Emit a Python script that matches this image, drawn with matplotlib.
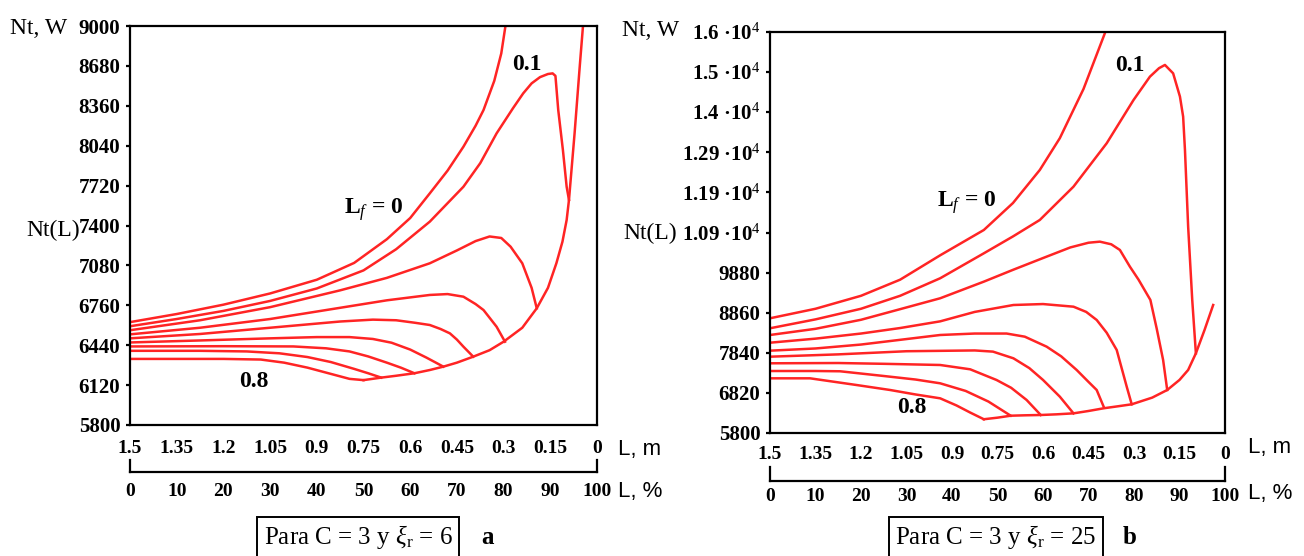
import matplotlib
matplotlib.use("Agg")
import matplotlib.pyplot as plt

plt.rcParams['font.family'] = ['Liberation Serif', 'DejaVu Serif']
plt.rcParams['mathtext.fontset'] = 'custom'
plt.rcParams['mathtext.rm'] = 'Liberation Serif'
plt.rcParams['mathtext.it'] = 'Liberation Serif:italic'
plt.rcParams['mathtext.bf'] = 'Liberation Serif:bold'

RED = '#ff2424'
GREEN = '#1fa83c'

# ---------------- shared bottom scales ----------------
pct_ticks = [0, 10, 20, 30, 40, 50, 60, 70, 80, 90, 100]
pct_labels = ['0', '10', '20', '30', '40', '50', '60', '70', '80', '90', '100']
m_labels = ['1.5', '1.35', '1.2', '1.05', '0.9', '0.75', '0.6', '0.45', '0.3', '0.15', '0']

# ---------------- panel a (C = 3, xi_r = 6) ----------------
a_yticks = [5800, 6120, 6440, 6760, 7080, 7400, 7720, 8040, 8360, 8680, 9000]
a_yticklabels = ['5800', '6120', '6440', '6760', '7080', '7400', '7720', '8040', '8360', '8680', '9000']

a_x0 = [0, 10, 20, 30, 40, 48, 55, 60, 64.2, 68, 71.4, 74, 75.7, 78, 79.5, 80.6]
a_y0 = [6625, 6690, 6765, 6855, 6965, 7100, 7290, 7460, 7658, 7840, 8032, 8200, 8326, 8560, 8780, 9050]
a_x1 = [0, 10, 20, 30, 40, 50, 57, 64.2, 71.4, 75, 78.5, 82, 84.2, 86, 87.8, 89.5, 90.5, 91.1, 91.7, 92.7, 93.5, 94.0]
a_y1 = [6592, 6650, 6715, 6795, 6895, 7040, 7210, 7431, 7711, 7900, 8139, 8340, 8460, 8540, 8590, 8615, 8620, 8600, 8326, 8005, 7711, 7605]
a_x2 = [0, 15, 30, 45, 55, 64.2, 70, 74, 77, 79.5, 81.5, 84, 86, 87.1]
a_y2 = [6560, 6640, 6745, 6880, 6980, 7097, 7200, 7275, 7312, 7300, 7230, 7097, 6900, 6736]
a_x3 = [0, 15, 30, 45, 55, 64.2, 68, 71.4, 74, 75.7, 77, 78.5, 80.3]
a_y3 = [6527, 6580, 6650, 6740, 6800, 6843, 6850, 6829, 6770, 6722, 6660, 6588, 6468]
a_x4 = [0, 15, 30, 45, 52, 57, 61, 64.2, 66.5, 68.5, 70, 71.4, 73.5]
a_y4 = [6495, 6530, 6580, 6630, 6645, 6640, 6620, 6602, 6570, 6535, 6485, 6428, 6348]
a_x5 = [0, 15, 30, 40, 47, 52, 56, 60, 63.5, 67.1]
a_y5 = [6462, 6478, 6495, 6505, 6505, 6490, 6460, 6405, 6340, 6268]
a_x6 = [0, 20, 35, 42, 47, 51, 55, 58, 60.9]
a_y6 = [6430, 6432, 6430, 6415, 6390, 6350, 6300, 6260, 6215]
a_x7 = [0, 15, 25, 32, 38, 43, 48, 51, 53.8]
a_y7 = [6395, 6395, 6390, 6375, 6345, 6305, 6250, 6215, 6180]
a_x8 = [0, 20, 28, 33, 38, 43, 47, 50]
a_y8 = [6330, 6330, 6325, 6300, 6260, 6210, 6170, 6160]
a_env_x = [50, 53.8, 57, 60.9, 64.2, 67.1, 70, 73.5, 77, 80, 84, 87.1, 89.5, 91.3, 92.6, 93.5, 94.0, 95.2, 96.3, 97.0, 97.3]
a_env_y = [6160, 6180, 6195, 6215, 6241, 6268, 6300, 6348, 6400, 6468, 6580, 6736, 6900, 7097, 7270, 7444, 7605, 8139, 8674, 9000, 9100]

# ---------------- panel b (C = 3, xi_r = 25) ----------------
b_yticks = [5800, 6820, 7840, 8860, 9880, 10900, 11920, 12940, 13960, 14980, 16000]
b_yticklabels = ['5800', '6820', '7840', '8860', '9880',
                 '1.09 ·10$^{4}$', '1.19 ·10$^{4}$', '1.29 ·10$^{4}$',
                 '1.4 ·10$^{4}$', '1.5 ·10$^{4}$', '1.6 ·10$^{4}$']

b_x0 = [0, 10, 20, 28.6, 37.4, 47, 53.4, 59.3, 63.7, 68.9, 73.6, 74.3]
b_y0 = [8718, 8960, 9290, 9700, 10320, 10964, 11650, 12491, 13300, 14550, 15970, 16200]
b_x1 = [0, 10, 20, 28.6, 37.4, 47, 53.4, 59.3, 66.7, 74, 79.9, 83.5, 85.5, 86.8, 88.6, 90.1, 90.8, 91.2, 91.9, 92.8, 93.6]
b_y1 = [8464, 8690, 8960, 9290, 9736, 10371, 10800, 11219, 12066, 13170, 14271, 14864, 15080, 15162, 14949, 14356, 13847, 12999, 11050, 9184, 7827]
b_x2 = [0, 10, 20, 28.6, 37.4, 47, 53.4, 60, 66, 70, 72.5, 75, 76.9, 79.1, 81, 83.6, 85, 86.4, 87.3]
b_y2 = [8293, 8450, 8680, 8950, 9227, 9650, 9950, 10250, 10520, 10640, 10667, 10600, 10456, 10031, 9700, 9184, 8450, 7657, 6894]
b_x3 = [0, 10, 20, 28.6, 37.4, 45, 53.5, 60, 66.7, 69.5, 71.8, 74, 76.2, 78.4, 79.5]
b_y3 = [8097, 8200, 8330, 8470, 8640, 8880, 9056, 9080, 9013, 8880, 8675, 8350, 7912, 6978, 6530]
b_x4 = [0, 10, 20, 28.6, 37.4, 45, 52, 56, 60.8, 64, 67.4, 70, 71.8, 73.4]
b_y4 = [7894, 7950, 8050, 8170, 8293, 8330, 8330, 8250, 7996, 7750, 7403, 7100, 6894, 6450]
b_x5 = [0, 15, 30, 45, 49, 53.5, 57, 60, 63.7, 66.7]
b_y5 = [7741, 7800, 7880, 7900, 7870, 7700, 7450, 7150, 6724, 6300]
b_x6 = [0, 15, 25, 37.4, 44, 49.8, 53, 56.4, 59.5]
b_y6 = [7573, 7580, 7560, 7530, 7420, 7148, 6950, 6640, 6258]
b_x7 = [0, 10, 15.4, 25, 32, 37.4, 43, 48, 52.9]
b_y7 = [7377, 7377, 7370, 7250, 7160, 7064, 6870, 6600, 6240]
b_x8 = [0, 8.8, 19, 26.4, 32, 37.4, 41, 44, 47]
b_y8 = [7191, 7191, 7021, 6894, 6780, 6682, 6500, 6320, 6150]
b_env_x = [47, 50, 52.9, 56, 59.5, 63, 66.7, 70, 73.4, 76.5, 79.5, 84, 87.3, 90, 91.9, 93.6, 95.5, 97.4]
b_env_y = [6150, 6190, 6240, 6250, 6258, 6275, 6300, 6360, 6430, 6480, 6530, 6700, 6894, 7150, 7403, 7827, 8420, 9056]

W, H = 1304, 556
fig = plt.figure(figsize=(W / 100, H / 100), dpi=100)


def fx(px):
    return px / W


def fy(py):
    return 1 - py / H


def panel(box, bbox_px, ylim, yticks, yticklabels, curves, env, labels,
          top_pad, bot_pad):
    x0, y0, x1, y1 = box
    ax = fig.add_axes([fx(x0), fy(y1), (x1 - x0) / W, (y1 - y0) / H])
    for xs, ys in curves:
        ax.plot(xs, ys, color=RED, lw=1.8, solid_joinstyle='round')
    ax.plot(env[0], env[1], color=RED, lw=1.8, solid_joinstyle='round')
    ax.set_xlim(0, 100)
    ax.set_ylim(*ylim)
    ax.set_xticks([])
    ax.set_yticks(yticks, yticklabels)
    ax.tick_params(axis='y', direction='out', length=3, width=1.6, pad=4,
                   labelsize=15)
    for t in ax.get_yticklabels():
        t.set_fontweight('bold')
    for s in ax.spines.values():
        s.set_linewidth(1.6)
    for txt, xd, yd in labels:
        ax.text(xd, yd, txt, fontsize=17, ha='center', va='center',
                fontweight='bold')

    bx0, by_top, bx1, by_bot = bbox_px
    axb = fig.add_axes([fx(bx0), fy(by_bot), (bx1 - bx0) / W, (by_bot - by_top) / H])
    axb.patch.set_alpha(0)
    axb.set_xlim(0, 100)
    axb.set_ylim(0, 1)
    axb.set_yticks([])
    axb.spines['top'].set_visible(False)
    for k in ('left', 'right', 'bottom'):
        axb.spines[k].set_linewidth(1.6)
    axb.set_xticks(pct_ticks, pct_labels)
    axb.set_xticks(pct_ticks[1:-1], minor=True)
    axb.tick_params(axis='x', which='major', length=0, pad=bot_pad, labelsize=14)
    axb.tick_params(axis='x', which='minor', length=9, width=2.0,
                    color=GREEN, direction='in')
    for t in axb.get_xticklabels():
        t.set_fontweight('bold')
    sec = axb.secondary_xaxis('top')
    sec.set_xticks(pct_ticks, m_labels)
    sec.tick_params(length=0, pad=top_pad, labelsize=14)
    sec.spines['top'].set_visible(False)
    for t in sec.get_xticklabels():
        t.set_fontweight('bold')
    return ax


LF0 = r'$\mathbf{L}_{\mathit{f}}$ = 0'

panel((130, 26, 597, 425), (130, 460, 597, 472), (5800, 9000),
      a_yticks, a_yticklabels,
      [(a_x0, a_y0), (a_x1, a_y1), (a_x2, a_y2), (a_x3, a_y3), (a_x4, a_y4),
       (a_x5, a_y5), (a_x6, a_y6), (a_x7, a_y7), (a_x8, a_y8)],
      (a_env_x, a_env_y),
      [(LF0, 52.2, 7524), ('0.1', 85, 8695), ('0.8', 26.5, 6145)],
      2.5, 8)

panel((770, 32, 1225, 433), (770, 467, 1225, 481), (5800, 16000),
      b_yticks, b_yticklabels,
      [(b_x0, b_y0), (b_x1, b_y1), (b_x2, b_y2), (b_x3, b_y3), (b_x4, b_y4),
       (b_x5, b_y5), (b_x6, b_y6), (b_x7, b_y7), (b_x8, b_y8)],
      (b_env_x, b_env_y),
      [(LF0, 43.3, 11651), ('0.1', 79.1, 15137), ('0.8', 31.2, 6436)],
      3, 5)

# axis names
fig.text(fx(10), fy(28), 'Nt, W', fontsize=17, va='center', ha='left')
fig.text(fx(80), fy(230), 'Nt(L)', fontsize=17, va='center', ha='right')
fig.text(fx(679), fy(30), 'Nt, W', fontsize=17, va='center', ha='right')
fig.text(fx(677), fy(233), 'Nt(L)', fontsize=17, va='center', ha='right')

for xp, ym, yp in ((618, 449, 491), (1248, 447, 493)):
    fig.text(fx(xp), fy(ym), 'L, m', family=['Liberation Sans', 'DejaVu Sans'],
             fontsize=16, va='center', ha='left')
    fig.text(fx(xp), fy(yp), 'L, %', family=['Liberation Sans', 'DejaVu Sans'],
             fontsize=16, va='center', ha='left')

# captions
box = dict(boxstyle='square,pad=0.25', fc='white', ec='black', lw=1.4)
fig.text(fx(358), fy(537), r'Para C = 3 y $\xi_{\mathrm{r}}$ = 6', fontsize=18,
         ha='center', va='center', bbox=box)
fig.text(fx(488), fy(537), 'a', fontsize=18, fontweight='bold', ha='center', va='center')
fig.text(fx(996), fy(537), r'Para C = 3 y $\xi_{\mathrm{r}}$ = 25', fontsize=18,
         ha='center', va='center', bbox=box)
fig.text(fx(1130), fy(537), 'b', fontsize=18, fontweight='bold', ha='center', va='center')

fig.savefig('out.png', dpi=100, facecolor='white')
